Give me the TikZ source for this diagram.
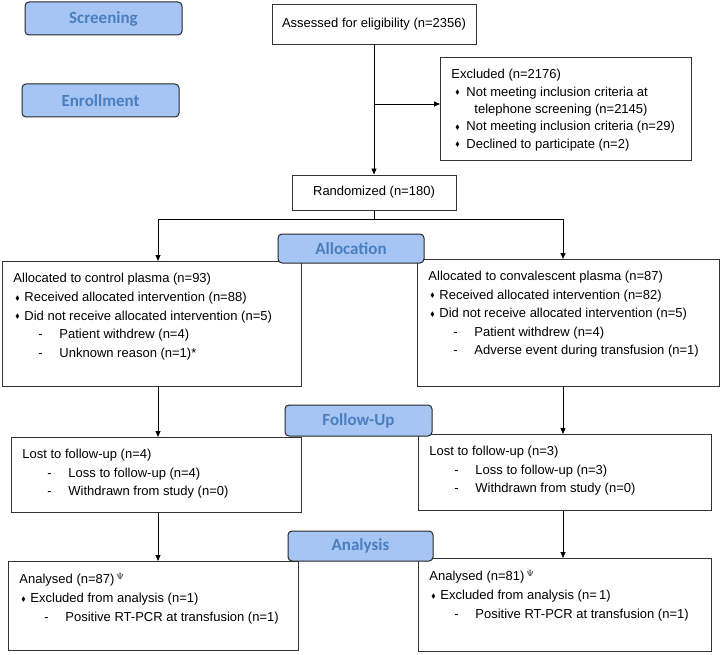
\documentclass[tikz,border=0pt]{standalone}
\usepackage{fontspec}
\usepackage{amssymb}
\setmainfont{Liberation Sans}
\newfontfamily\phasefont{Carlito}
\usetikzlibrary{positioning, arrows.meta}

\definecolor{phasefill}{RGB}{166,197,245}
\definecolor{phasetext}{RGB}{74,126,190}

\newcommand{\bul}{\raisebox{1.5pt}{\scalebox{.5}{$\blacklozenge$}}}
\newcommand{\bitem}{\hspace*{2pt}\makebox[9pt][l]{\bul}}
\newcommand{\ditem}{\hspace*{25pt}\makebox[21pt][l]{-}}
\newcommand{\panel}[4][18.5]{\begin{minipage}[t][\dimexpr#3pt-24pt\relax][t]{\dimexpr#2pt-22pt\relax}\fontsize{13}{#1}\selectfont #4\end{minipage}}

\begin{document}
\begin{tikzpicture}[x=1pt, y=-1pt, line width=0.9pt, >={Triangle[length=6pt,width=5pt]},
                    phase/.style={draw=black!85, line width=1pt, fill=phasefill, rounded corners=4pt, inner sep=0pt, text=phasetext, font=\phasefont\bfseries\fontsize{17}{20}\selectfont},
                    panel/.style={draw=black!80, anchor=north west, inner xsep=11pt, inner ysep=12pt},
                    plain/.style={draw=black!80, inner sep=0pt, font=\fontsize{13}{16}\selectfont}]

    \useasboundingbox (0,0) rectangle (720,655);

    % Nodes
    \node[plain, minimum width=204pt, minimum height=40pt] (assess) at (374,24) {Assessed for eligibility (n=2356)};
    \node[panel] (excl) at (440,57) {\panel[17.3]{251}{103}{Excluded (n=2176)\\
        \hspace*{4pt}\makebox[11pt][l]{\bul}Not meeting inclusion criteria at\\
        \hspace*{23pt}telephone screening (n=2145)\\
        \hspace*{4pt}\makebox[11pt][l]{\bul}Not meeting inclusion criteria (n=29)\\
        \hspace*{4pt}\makebox[11pt][l]{\bul}Declined to participate (n=2)}};
    \node[plain, minimum width=164pt, minimum height=35pt] (rand) at (374,192.5) {Randomized (n=180)};

    \node[panel] (ctrlA) at (2,261) {\panel[18.7]{299}{125}{Allocated to control plasma (n=93)\\
        \bitem Received allocated intervention (n=88)\\
        \bitem Did not receive allocated intervention (n=5)\\
        \ditem Patient withdrew (n=4)\\
        \ditem Unknown reason (n=1)*}};
    \node[panel] (convA) at (417,259) {\panel[18.5]{302}{127}{Allocated to convalescent plasma (n=87)\\
        \bitem Received allocated intervention (n=82)\\
        \bitem Did not receive allocated intervention (n=5)\\
        \ditem Patient withdrew (n=4)\\
        \ditem Adverse event during transfusion (n=1)}};

    \node[panel] (ctrlF) at (11,437) {\panel{290}{75}{Lost to follow-up (n=4)\\
        \ditem Loss to follow-up (n=4)\\
        \ditem Withdrawn from study (n=0)}};
    \node[panel] (convF) at (418,434) {\panel{293}{76}{Lost to follow-up (n=3)\\
        \ditem Loss to follow-up (n=3)\\
        \ditem Withdrawn from study (n=0)}};

    \node[panel] (ctrlN) at (8,561) {\panel[19]{290}{89}{Analysed (n=87)\,$^{\Psi}$\\
        \bitem Excluded from analysis (n=1)\\
        \ditem Positive RT-PCR at transfusion (n=1)}};
    \node[panel] (convN) at (418,558) {\panel[19]{293}{93}{Analysed (n=81)\,$^{\Psi}$\\
        \bitem Excluded from analysis (n=\,1)\\
        \ditem Positive RT-PCR at transfusion (n=1)}};

    % Phase labels
    \node[phase, minimum width=157pt, minimum height=33pt] (screening) at (103.5,18.5) {Screening};
    \node[phase, minimum width=157pt, minimum height=33pt] (enrollment) at (100.5,100.5) {Enrollment};
    \node[phase, minimum width=146pt, minimum height=29pt] (allocation) at (351,248.5) {Allocation};
    \node[phase, minimum width=147pt, minimum height=31pt] (followup) at (358.5,420.5) {Follow-Up};
    \node[phase, minimum width=145pt, minimum height=30pt] (analysis) at (360.5,546) {Analysis};

    \coordinate (splitX) at (374,104);
    \coordinate (splitL) at (158,219);
    \coordinate (splitR) at (563,219);

    % Paths
    \draw[->] (assess) -- (rand);
    \draw[->] (splitX) -- (splitX -| excl.west);
    \draw (rand.south) -- (rand.south |- splitL);
    \draw (splitL) -- (splitR);
    \draw[->] (splitL) -- (splitL |- ctrlA.north);
    \draw[->] (splitR) -- (splitR |- convA.north);
    \draw[->] (splitL |- ctrlA.south) -- (splitL |- ctrlF.north);
    \draw[->] (splitR |- convA.south) -- (splitR |- convF.north);
    \draw[->] (splitL |- ctrlF.south) -- (splitL |- ctrlN.north);
    \draw[->] (splitR |- convF.south) -- (splitR |- convN.north);

\end{tikzpicture}
\end{document}
